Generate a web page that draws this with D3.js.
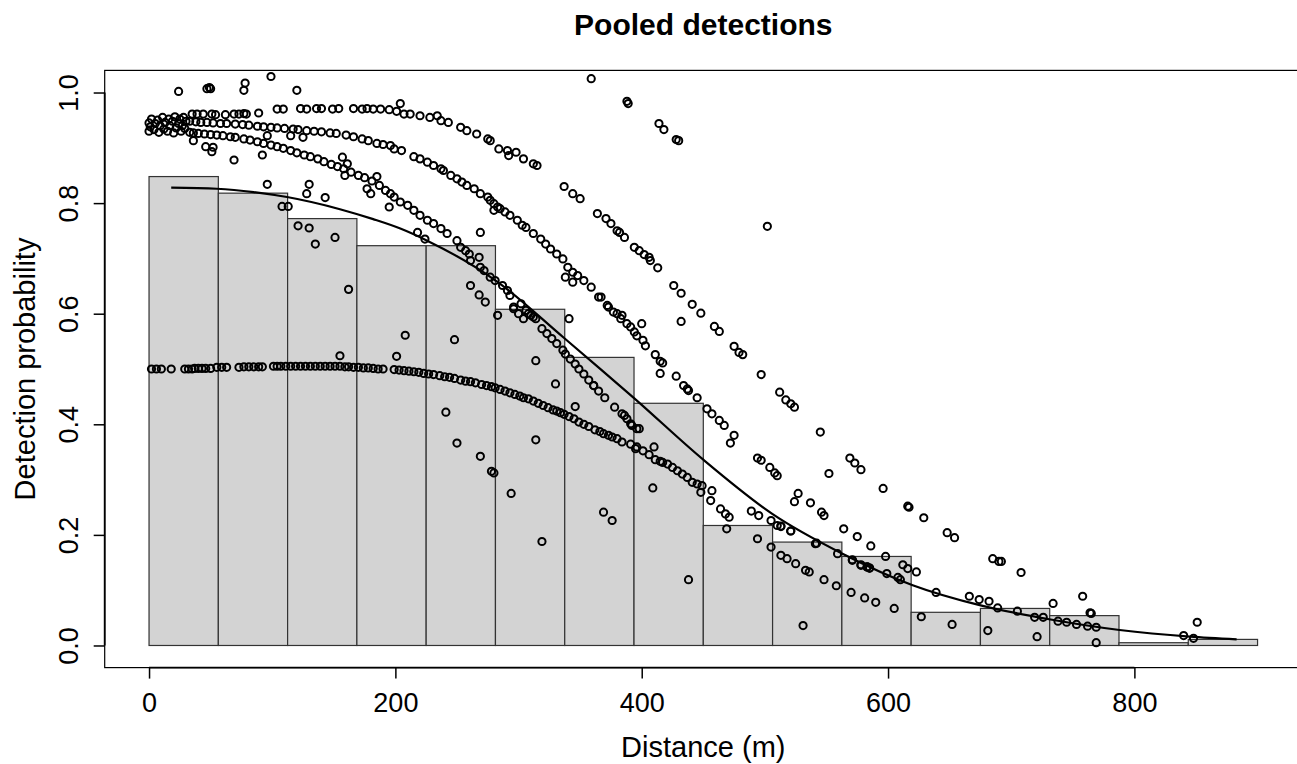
<!DOCTYPE html>
<html><head><meta charset="utf-8">
<script src="https://cdn.jsdelivr.net/npm/d3@7"></script>
<style>
body{margin:0;background:#fff}
text{font-family:"Liberation Sans",Arial,Helvetica,sans-serif;fill:#000}
</style>
</head><body>
<svg id="chart" width="1297" height="764"></svg>
<script>
// ---------- data ----------
const titleText = "Pooled detections";
const xLabel = "Distance (m)";
const yLabel = "Detection probability";
const xTicks = [0, 200, 400, 600, 800];
const yTicks = [0, 0.2, 0.4, 0.6, 0.8, 1.0];
const yTickLabels = ["0.0", "0.2", "0.4", "0.6", "0.8", "1.0"];

const breaks = [0, 56.25, 112.5, 168.75, 225, 281.25, 337.5, 393.75, 450, 506.25, 562.5, 618.75, 675, 731.25, 787.5, 843.75, 900];
const barHeights = [0.848, 0.818, 0.772, 0.723, 0.723, 0.608, 0.521, 0.438, 0.217, 0.187, 0.161, 0.060, 0.067, 0.054, 0.005, 0.011];

const lineDist = [18, 55, 85, 112, 155, 182, 204, 225, 282, 337, 367, 394, 450, 506, 563, 620, 676, 732, 788, 845, 883];
const lineProb = [0.828, 0.826, 0.820, 0.811, 0.789, 0.771, 0.754, 0.733, 0.659, 0.556, 0.499, 0.447, 0.336, 0.238, 0.166, 0.109, 0.072, 0.047, 0.028, 0.016, 0.011];

const detLeft = [[0,0.930],[0,0.945],[1,0.938],[2,0.952],[4,0.933],[5,0.944],[7,0.950],[8,0.928],[9,0.940],[11,0.955],[12,0.934],[13,0.946],[15,0.930],[16,0.952],[17,0.940],[19,0.948],[20,0.927],[21,0.956],[22,0.936],[24,0.944],[25,0.952],[26,0.930],[27,0.940],[28,0.955],[29,0.935],[30,0.948]];

const detA = [[2,0.500],[6,0.500],[10,0.500],[18,0.500],[29,0.500],[32,0.500],[35,0.500],[37,0.501],[40,0.501],[43,0.501],[46,0.501],[50,0.501],[55,0.503],[59,0.503],[63,0.503],[73,0.503],[77,0.504],[81,0.504],[85,0.504],[89,0.504],[92,0.504],[101,0.505],[104,0.505],[107,0.505],[111,0.505],[115,0.505],[119,0.505],[123,0.505],[127,0.505],[131,0.505],[135,0.505],[139,0.505],[143,0.505],[147,0.505],[151,0.505],[155,0.505],[159,0.504],[162,0.504],[166,0.503],[170,0.503],[174,0.502],[178,0.502],[182,0.501],[186,0.500],[190,0.500],
[199,0.499],[203,0.498],[207,0.497],[211,0.496],[215,0.495],[219,0.494],[223,0.492],[227,0.491],[231,0.490],[236,0.488],[240,0.486],[244,0.485],[248,0.483],[253,0.480],[257,0.478],[261,0.477],[265,0.475],[270,0.472],[274,0.470],[278,0.468],[281,0.466],[285,0.463],[289,0.460],[293,0.457],[297,0.454],[301,0.451],[304,0.448],[308,0.446],[312,0.442],[316,0.438],[320,0.434],[324,0.430],[328,0.426],[331,0.424],[334,0.421],[337,0.418],[341,0.414],[345,0.410],[349,0.404],[353,0.400],[357,0.396],[362,0.390],[366,0.387],[369,0.383],[373,0.380],[376,0.377],[380,0.374],[384,0.368],[391,0.364],[396,0.359],[401,0.352],[406,0.345],[411,0.336],[415,0.333],[417,0.331],[421,0.328],[425,0.322],[429,0.316],[433,0.310],[437,0.304],[441,0.295],[445,0.292],[449,0.289],[448,0.277],[457,0.280],[456,0.262],[464,0.247],[468,0.238],[471,0.232],[494,0.193],[505,0.178],[513,0.163],[518,0.157],[525,0.148],[533,0.136],[536,0.133],[548,0.119],[558,0.108],[570,0.096],[581,0.086],[590,0.078],[605,0.067],[627,0.052],[652,0.038],[681,0.027],[721,0.016],[769,0.005],[840,0.018],[848,0.013]];

const detB = [[33,0.928],[36,0.927],[40,0.926],[45,0.925],[50,0.924],[55,0.923],[60,0.922],[66,0.920],[70,0.919],[77,0.916],[82,0.914],[88,0.911],[93,0.908],[99,0.905],[104,0.902],[109,0.899],[115,0.895],[120,0.891],[126,0.887],[131,0.884],[137,0.880],[142,0.875],[148,0.870],[153,0.866],[158,0.862],[164,0.856],[170,0.850],[175,0.846],[181,0.840],[187,0.832],[192,0.823],[196,0.817],[199,0.811],[204,0.802],[210,0.796],[215,0.787],[220,0.778],[226,0.769],[231,0.763],[237,0.754],[242,0.745],[250,0.732],[253,0.720],[257,0.714],[260,0.708],[261,0.696],[269,0.684],[272,0.678],[277,0.666],[281,0.660],[287,0.651],[291,0.642],[293,0.633],[296,0.612],[300,0.600],[302,0.618],[306,0.606],[308,0.600],[310,0.597],[312,0.594],[314,0.591],[319,0.573],[323,0.564],[327,0.555],[331,0.546],[336,0.534],[338,0.527],[342,0.518],[346,0.509],[349,0.500],[353,0.491],[357,0.480],[361,0.470],[365,0.460],[370,0.448],[378,0.431],[384,0.419],[386,0.416],[388,0.410],[391,0.401],[392,0.398],[396,0.392],[398,0.392],
[489,0.243],[495,0.235],[505,0.226],[510,0.217],[513,0.215],[521,0.207],[541,0.184],[559,0.166],[571,0.155],[578,0.146],[583,0.142],[585,0.140]];

const detC = [[33,0.948],[38,0.947],[42,0.946],[47,0.946],[52,0.945],[58,0.944],[63,0.944],[70,0.943],[76,0.942],[81,0.941],[88,0.939],[93,0.938],[99,0.937],[104,0.936],[110,0.935],[117,0.934],[121,0.933],[128,0.931],[134,0.930],[140,0.929],[147,0.927],[152,0.926],[160,0.923],[166,0.920],[173,0.916],[178,0.913],[185,0.908],[190,0.906],
[196,0.904],[199,0.898],[205,0.895],[215,0.884],[220,0.880],[226,0.874],[231,0.868],[237,0.862],[239,0.859],[245,0.850],[250,0.844],[254,0.838],[258,0.832],[264,0.826],[269,0.817],[275,0.811],[277,0.805],[280,0.799],[283,0.793],[285,0.790],[289,0.784],[293,0.778],[299,0.769],[303,0.760],[306,0.756],[312,0.745],[318,0.735],[322,0.726],[326,0.717],[331,0.708],[336,0.699],[340,0.684],[344,0.675],[348,0.669],[353,0.660],[359,0.648],[365,0.630],[338,0.666],[344,0.657],[367,0.630],[372,0.615],[373,0.612],[377,0.603],[380,0.600],[383,0.591],[384,0.597],[388,0.582],[391,0.576],[394,0.567],[396,0.560],[401,0.552],[403,0.542],[411,0.526],[415,0.514],[417,0.511],[415,0.492],[428,0.487],[434,0.470],[437,0.464],[438,0.461],[445,0.448],[453,0.428],[457,0.419],[463,0.407],[467,0.398],[475,0.380],[472,0.366],[494,0.339],[497,0.335],[504,0.322],[508,0.312],[510,0.307],[527,0.275],[524,0.260],[537,0.258],[546,0.241],[548,0.235],[564,0.211],[575,0.197],[586,0.180],[598,0.161],[612,0.146],[616,0.139],[623,0.133],[639,0.096],[666,0.089],[674,0.083],[682,0.080],[689,0.068],[705,0.062],[719,0.051],[726,0.051],[738,0.044],[745,0.042],[753,0.038],[762,0.035],[769,0.033],[765,0.058]];

const detD = [[35,0.961],[39,0.961],[44,0.961],[51,0.961],[54,0.960],[62,0.960],[69,0.961],[73,0.961],[77,0.962],[79,0.961],[89,0.963],
[104,0.970],[109,0.970],[123,0.971],[128,0.970],[136,0.971],[140,0.971],[149,0.970],[154,0.971],[166,0.971],[173,0.970],[177,0.971],[182,0.970],[188,0.970],[195,0.969],[201,0.966],
[207,0.961],[212,0.961],[220,0.958],[228,0.955],[234,0.958],[237,0.949],[243,0.946],[253,0.937],[258,0.931],[266,0.925],[275,0.916],[277,0.913],[284,0.898],[291,0.895],[292,0.886],[298,0.892],[304,0.880],[312,0.871],[315,0.868],
[337,0.830],[344,0.817],[350,0.808],[364,0.781],[371,0.772],[375,0.763],[380,0.750],[382,0.747],[386,0.738],[394,0.720],[398,0.714],[402,0.707],[406,0.702],[407,0.696],[413,0.683],[426,0.651],[432,0.637],[441,0.617],[448,0.601],[459,0.577],[463,0.568],[475,0.541],[479,0.530],[482,0.526],[497,0.490],[512,0.458],[517,0.444],[521,0.437],[524,0.431],[545,0.386],[569,0.339],[573,0.330],[578,0.318],[596,0.284],[616,0.252],[617,0.250],[629,0.231],[648,0.204],[654,0.195],[685,0.157],[690,0.152],[692,0.152],[708,0.132],[734,0.076],[758,0.089],[764,0.059],[851,0.042]];

const detE = [[359,1.025],[388,0.984],[389,0.980],[414,0.944],[418,0.933],[428,0.915],[430,0.913]];

const detScatter = [[24,1.002],[47,1.007],[49,1.009],[50,1.007],[77,1.004],[78,1.017],[99,1.029],[120,1.004],[204,0.980],
[36,0.913],[46,0.902],[52,0.901],[51,0.893],[69,0.878],[92,0.887],[96,0.922],[115,0.922],[125,0.919],[157,0.883],[161,0.871],[159,0.850],[185,0.848],[177,0.826],[180,0.817],[195,0.793],
[96,0.834],[130,0.834],[128,0.817],[143,0.810],[108,0.794],[113,0.794],[121,0.759],[130,0.755],[135,0.726],[151,0.738],[162,0.644],
[218,0.747],[224,0.735],[268,0.702],[261,0.651],[268,0.634],[273,0.621],[283,0.597],[296,0.609],[304,0.591],[208,0.561],[248,0.553],[280,0.787],[269,0.747],[341,0.591],[400,0.582],[432,0.586],
[155,0.524],[201,0.523],[241,0.422],[250,0.366],[269,0.342],[278,0.315],[280,0.312],
[314,0.515],[330,0.473],[314,0.372],[294,0.275],[319,0.188],[369,0.241],[376,0.226],[438,0.119],[531,0.036],[346,0.432],[361,0.470],[395,0.356],[410,0.359],[409,0.285],
[469,0.211],[502,0.758],[552,0.311],[542,0.185],[513,0.216],[521,0.207],
[599,0.130],[608,0.123],[610,0.119],[571,0.154],[578,0.145],[583,0.142],[585,0.140]];

// ---------- drawing ----------
const svg = d3.select("#chart");
const W = 1297, H = 764;
const plotL = 104.7, plotR = 1301.9, plotT = 70.4, plotB = 667.6;
const x = d3.scaleLinear().domain([-36, 936]).range([plotL, plotR]);
const y = d3.scaleLinear().domain([-0.04, 1.04]).range([plotB, plotT]);

svg.append("rect").attr("width", W).attr("height", H).attr("fill", "#fff");

// histogram
const bins = barHeights.map((h, i) => ({x0: breaks[i], x1: breaks[i + 1], h}));
svg.append("g").selectAll("rect").data(bins).join("rect")
  .attr("x", d => x(d.x0)).attr("y", d => y(d.h))
  .attr("width", d => x(d.x1) - x(d.x0)).attr("height", d => y(0) - y(d.h))
  .attr("fill", "#d3d3d3").attr("stroke", "#333").attr("stroke-width", 1.2);

// fitted line
const linePts = lineDist.map((d, i) => [d, lineProb[i]]);
svg.append("path").datum(linePts)
  .attr("d", d3.line().x(d => x(d[0])).y(d => y(d[1])).curve(d3.curveMonotoneX))
  .attr("fill", "none").attr("stroke", "#000").attr("stroke-width", 2.2);

// points
const allPts = [].concat(detLeft, detA, detB, detC, detD, detE, detScatter);
svg.append("g").selectAll("circle").data(allPts).join("circle")
  .attr("cx", d => x(d[0])).attr("cy", d => y(d[1])).attr("r", 3.6)
  .attr("fill", "none").attr("stroke", "#000").attr("stroke-width", 2);

// box
svg.append("rect").attr("x", plotL).attr("y", plotT)
  .attr("width", plotR - plotL).attr("height", plotB - plotT)
  .attr("fill", "none").attr("stroke", "#000").attr("stroke-width", 1.2);

// x axis
const gx = svg.append("g").attr("transform", `translate(0,${plotB})`)
  .call(d3.axisBottom(x).tickValues(xTicks).tickSize(11).tickPadding(6).tickFormat(d3.format("d")));
gx.select(".domain").attr("d", `M${x(xTicks[0])},0H${x(xTicks[xTicks.length - 1])}`).attr("stroke-width", 1.8);
gx.selectAll(".tick line").attr("stroke-width", 1.5);
gx.selectAll(".tick text").attr("font-size", 27).attr("font-family", "Liberation Sans, Arial, sans-serif")
  .attr("dy", null).attr("y", 44);

// y axis
const gy = svg.append("g").attr("transform", `translate(${plotL},0)`)
  .call(d3.axisLeft(y).tickValues(yTicks).tickSize(11).tickFormat((d, i) => yTickLabels[i]));
gy.select(".domain").attr("d", `M0,${y(yTicks[0])}V${y(yTicks[yTicks.length - 1])}`).attr("stroke-width", 1.8);
gy.selectAll(".tick line").attr("stroke-width", 1.5);
gy.selectAll(".tick text")
  .attr("font-size", 27).attr("font-family", "Liberation Sans, Arial, sans-serif")
  .attr("x", null).attr("dy", null).attr("text-anchor", "middle")
  .attr("transform", "translate(-27,0) rotate(-90)");

// titles
svg.append("text").attr("x", (plotL + plotR) / 2).attr("y", 35)
  .attr("text-anchor", "middle").attr("font-size", 30).attr("font-weight", "bold").text(titleText);
svg.append("text").attr("x", (plotL + plotR) / 2).attr("y", 757)
  .attr("text-anchor", "middle").attr("font-size", 29).text(xLabel);
svg.append("text").attr("transform", `translate(35,${(plotT + plotB) / 2}) rotate(-90)`)
  .attr("text-anchor", "middle").attr("font-size", 29).text(yLabel);
</script>
</body></html>
